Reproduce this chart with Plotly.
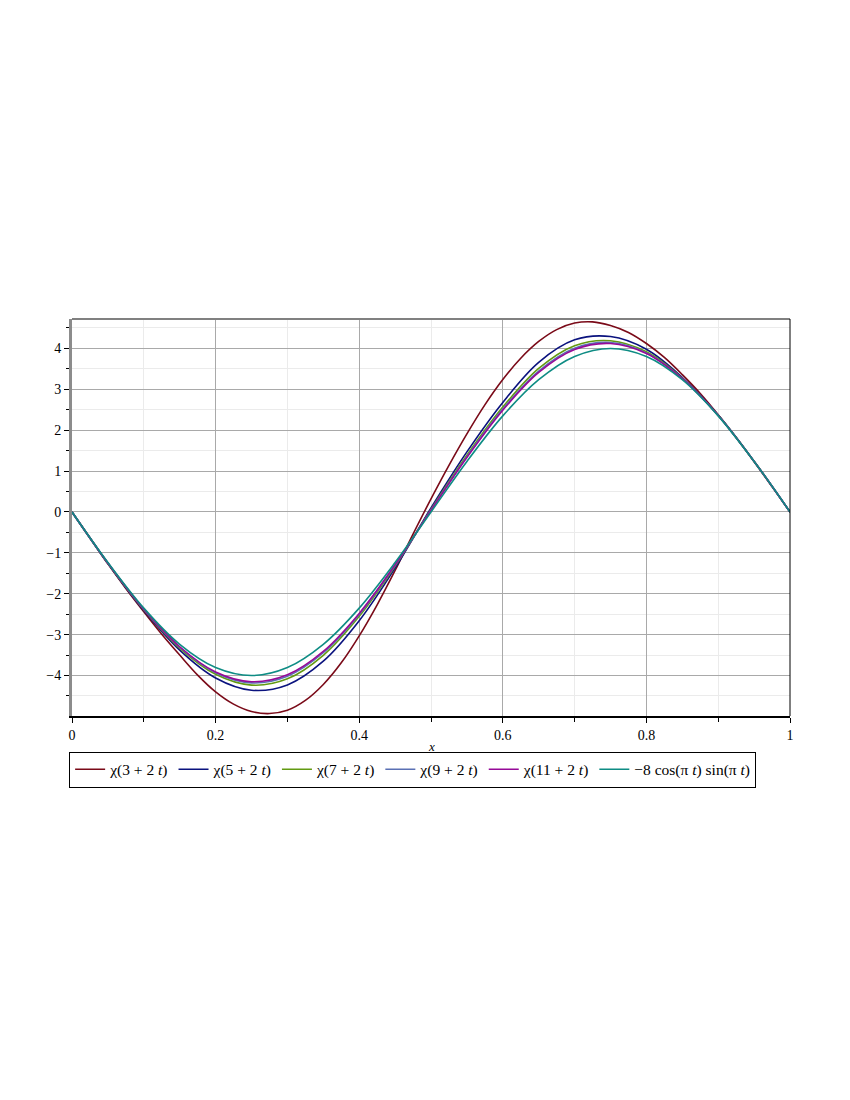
import plotly.graph_objects as go

t = [0.0, 0.05, 0.1, 0.15, 0.2, 0.25, 0.3, 0.35, 0.4, 0.45, 0.5,
     0.55, 0.6, 0.65, 0.7, 0.75, 0.8, 0.85, 0.9, 0.95, 1.0]
t_fine = [0.0, 0.025, 0.05, 0.075, 0.1, 0.125, 0.15, 0.175, 0.2, 0.225, 0.25,
          0.275, 0.3, 0.325, 0.35, 0.375, 0.4, 0.425, 0.45, 0.475, 0.5,
          0.525, 0.55, 0.575, 0.6, 0.625, 0.65, 0.675, 0.7, 0.725, 0.75,
          0.775, 0.8, 0.825, 0.85, 0.875, 0.9, 0.925, 0.95, 0.975, 1.0]

chi3 = [0.0, -0.63, -1.27, -1.87, -2.44, -2.99, -3.50, -3.99, -4.40, -4.70, -4.88,
        -4.93, -4.85, -4.61, -4.22, -3.69, -3.03, -2.27, -1.43, -0.54, 0.32,
        1.14, 1.91, 2.62, 3.24, 3.76, 4.17, 4.46, 4.62, 4.65, 4.56,
        4.39, 4.12, 3.78, 3.36, 2.90, 2.38, 1.82, 1.23, 0.62, 0.0]
chi5 = [0.0, -1.26, -2.41, -3.38, -4.06, -4.36, -4.23, -3.65, -2.66, -1.37, 0.10,
        1.47, 2.68, 3.66, 4.21, 4.29, 3.98, 3.29, 2.37, 1.24, 0.0]
chi7 = [0.0, -1.252, -2.389, -3.330, -3.970, -4.234, -4.081, -3.505, -2.552, -1.323, 0.065,
        1.388, 2.565, 3.512, 4.068, 4.189, 3.918, 3.271, 2.363, 1.239, 0.0]
chi9 = [0.0, -1.248, -2.381, -3.308, -3.932, -4.180, -4.017, -3.443, -2.506, -1.303, 0.050,
        1.353, 2.516, 3.448, 4.007, 4.145, 3.892, 3.263, 2.361, 1.238, 0.0]
chi11 = [0.0, -1.246, -2.376, -3.296, -3.912, -4.151, -3.983, -3.410, -2.481, -1.292, 0.042,
         1.334, 2.489, 3.414, 3.975, 4.122, 3.878, 3.259, 2.359, 1.238, 0.0]
exact = [0.0, -1.236, -2.351, -3.236, -3.804, -4.0, -3.804, -3.236, -2.351, -1.236, 0.0,
         1.236, 2.351, 3.236, 3.804, 4.0, 3.804, 3.236, 2.351, 1.236, 0.0]

names = ["χ(3 + 2 <i>t</i>)", "χ(5 + 2 <i>t</i>)", "χ(7 + 2 <i>t</i>)",
         "χ(9 + 2 <i>t</i>)", "χ(11 + 2 <i>t</i>)",
         "−8 cos(π <i>t</i>) sin(π <i>t</i>)"]
xs = [t_fine, t, t, t, t, t]
series = [chi3, chi5, chi7, chi9, chi11, exact]
colors = ["#7a0a18", "#0a127e", "#629a12", "#5a70b4", "#960a98", "#0e8c84"]

fig = go.Figure()
for nm, xv, ys, c in zip(names, xs, series, colors):
    fig.add_trace(go.Scatter(x=xv, y=ys, mode="lines", name=nm,
                             line=dict(color=c, width=1.6, shape="spline", smoothing=1.0)))

font = dict(family="Liberation Serif, Times New Roman, serif", size=14, color="black")

fig.update_layout(
    width=842, height=1084,
    margin=dict(l=64, r=60, t=311, b=376),
    paper_bgcolor="white", plot_bgcolor="white",
    font=font,
    showlegend=True,
    legend=dict(orientation="h", x=-0.004, y=-0.09, xanchor="left", yanchor="top",
                bordercolor="black", borderwidth=1, font=dict(size=15.5),
                bgcolor="rgba(0,0,0,0)", tracegroupgap=0, itemwidth=30),
    xaxis=dict(range=[0, 1], dtick=0.2, tick0=0, showgrid=True, gridcolor="#a9a9a9",
               gridwidth=1, ticks="outside", ticklen=5, tickcolor="black",
               showline=True, linecolor="black", linewidth=1.5, zeroline=False,
               minor=dict(dtick=0.1, showgrid=True, gridcolor="#ebebeb", ticks="outside",
                          ticklen=4, tickcolor="black")),
    yaxis=dict(range=[-4.99, 4.72], dtick=1, tick0=0, showgrid=True, gridcolor="#a9a9a9",
               gridwidth=1, ticks="outside", ticklen=5, tickcolor="black",
               showline=True, linecolor="#8c8c8c", linewidth=3, zeroline=False,
               minor=dict(dtick=0.5, showgrid=True, gridcolor="#ebebeb", ticks="outside",
                          ticklen=3, tickcolor="black")),
    annotations=[
        dict(text="<i>x</i>", xref="paper", yref="paper", x=0.5, y=-0.078,
             xanchor="center", yanchor="middle", showarrow=False,
             font=dict(size=13, family="Liberation Serif, Times New Roman, serif")),
    ],
    shapes=[
        dict(type="line", xref="paper", yref="paper", x0=0, x1=1, y0=1, y1=1,
             line=dict(color="#808080", width=2)),
        dict(type="line", xref="paper", yref="paper", x0=1, x1=1, y0=0, y1=1,
             line=dict(color="black", width=1)),
    ],
)

fig.write_html("out.html")
